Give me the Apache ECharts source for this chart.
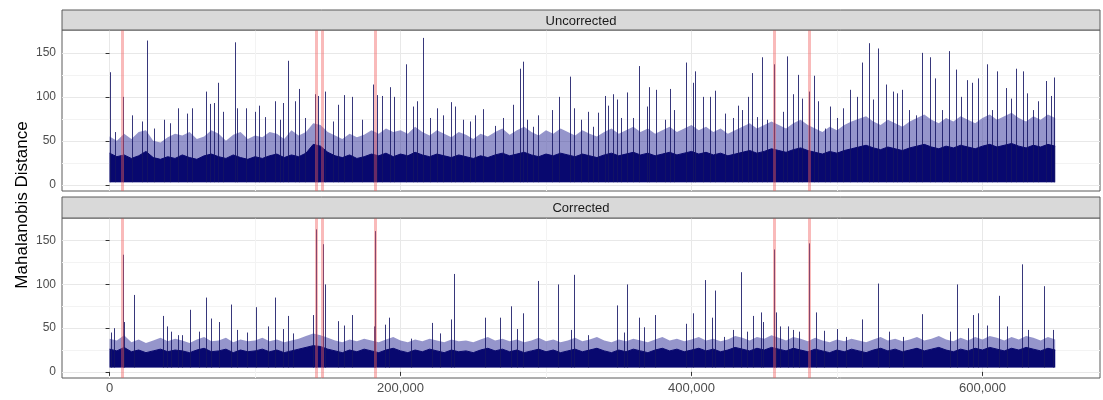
<!DOCTYPE html>
<html><head><meta charset="utf-8">
<script src="https://cdn.jsdelivr.net/npm/echarts@6/dist/echarts.min.js"></script>
<style>html,body{margin:0;padding:0;background:#fff}#c{width:1103px;height:400px}</style>
</head><body><div id="c"></div>
<script>
// ---------- data ----------
const panelTitles = ['Uncorrected', 'Corrected'];
const binStart = 0, binStep = 5000;           // x position of each band value
// dense (dark) band top, Uncorrected
const uncBand = [
 36,32,34,30,33,38,31,29,32,30,
 34,31,29,33,35,32,30,34,31,29,
 32,30,33,35,31,34,32,36,46,44,
 37,33,31,34,30,32,35,33,36,32,
 35,33,37,34,32,35,33,31,34,32,
 30,33,31,34,36,33,35,37,34,32,
 35,33,36,34,32,35,33,31,34,36,
 33,35,37,34,36,33,35,37,34,36,
 38,35,37,34,36,33,35,37,39,36,
 38,41,39,37,40,42,39,37,35,38,
 36,39,41,43,45,42,40,43,41,39,
 42,44,46,43,41,44,42,45,43,41,
 44,46,43,45,47,44,42,45,43,46,
 44];
// lighter envelope top, Uncorrected
const uncEnv = [
 55,50,58,52,60,62,50,48,54,58,
 56,60,52,55,62,58,50,57,60,52,
 56,54,60,58,52,62,56,60,70,68,
 60,56,52,58,54,57,62,58,64,60,
 62,58,66,60,56,62,58,54,60,57,
 52,58,55,60,64,57,62,66,60,56,
 62,58,64,60,56,62,58,55,60,64,
 58,62,66,60,64,58,62,66,60,64,
 68,62,66,60,64,58,62,66,70,64,
 68,72,68,64,70,74,68,64,60,66,
 62,68,72,75,78,72,68,74,70,66,
 72,76,80,74,70,76,72,78,74,70,
 76,80,74,78,82,76,72,78,74,80,
 76];
// dense (dark) band top, Corrected
const corBand = [
 26,24,28,23,25,22,24,26,23,25,
 24,22,25,27,23,24,26,22,25,23,
 24,26,23,25,22,24,26,28,30,29,
 26,24,22,25,23,26,24,22,25,27,
 24,22,25,23,26,24,22,25,23,24,
 22,25,27,24,26,23,25,22,24,26,
 23,25,22,24,26,23,25,27,24,22,
 25,23,26,24,22,25,27,24,26,23,
 25,27,24,26,23,25,28,26,24,27,
 25,28,26,24,27,25,23,26,24,22,
 25,23,26,24,22,25,27,24,26,23,
 25,27,24,26,28,25,23,26,24,27,
 25,28,26,24,27,25,28,26,24,27,
 25];
// lighter envelope top, Corrected
const corEnv = [
 38,36,42,34,37,33,36,39,35,38,
 36,33,37,40,35,36,39,34,37,35,
 36,39,35,37,34,36,38,41,44,42,
 39,36,34,37,35,38,36,34,37,40,
 36,34,37,35,38,36,34,37,35,36,
 34,37,40,36,38,35,37,34,36,39,
 35,37,34,36,39,35,37,40,36,34,
 37,35,38,36,34,37,40,36,38,35,
 37,40,36,38,35,37,41,39,36,40,
 38,42,39,36,40,38,35,39,36,34,
 37,35,38,36,34,37,40,36,38,35,
 37,40,36,38,41,37,35,39,36,40,
 37,41,39,36,40,37,41,39,36,40,
 37];
const uncFloor = 3, corFloor = 5;   // lower edge of the dense band
// individual spikes [position, distance]
const uncPeaks = [
 [340,128],[3800,60],[9050,100],[15200,79],[22100,72],[25500,164],[30600,64],[37500,74],
 [41600,70],[46900,87],[53100,81],[56500,87],[66100,106],[69100,92],[71600,93],[74600,116],
 [78200,83],[86300,162],[87400,87],[93600,87],[100000,83],[103000,90],[106900,77],[113700,95],
 [117200,74],[119500,93],[122700,141],[127500,95],[130500,109],[134400,76],[141200,103],[143500,101],
 [148100,106],[153800,72],[157300,91],[161200,102],[166900,100],[173300,74],[180900,114],[183600,102],
 [187500,101],[192800,111],[195500,100],[203800,137],[208800,89],[211500,95],[215700,167],[220300,76],
 [225300,87],[229000,79],[234500,94],[237500,89],[243200,74],[247800,72],[251200,79],[256900,86],
 [265000,67],[270200,76],[277500,91],[282100,132],[284400,140],[286700,74],[291300,66],[294700,79],
 [303900,85],[308900,100],[316500,123],[319200,87],[324000,74],[328600,83],[332100,66],[335900,82],
 [340600,101],[342800,90],[345900,103],[348600,97],[351300,76],[355500,105],[360000,76],[364200,135],
 [369200,89],[371000,111],[375600,108],[381800,74],[385200,109],[388000,85],[396200,139],[401300,116],
 [402400,129],[408100,100],[412700,100],[416200,107],[423000,81],[428300,76],[432200,90],[434500,85],
 [439100,100],[441800,127],[445200,77],[448500,145],[451700,74],[456900,137],[462700,83],[465600,146],
 [470000,103],[473400,125],[476200,98],[481000,106],[484200,124],[487200,95],[491800,64],[495200,89],
 [499800,76],[504400,87],[509000,108],[513600,100],[517400,139],[522000,161],[524600,97],[528000,155],
 [533500,114],[538700,106],[541000,104],[544900,108],[549700,85],[554300,79],[558200,150],[563900,145],
 [567400,121],[572000,85],[577000,152],[581600,131],[585000,100],[589200,119],[593000,116],[597100,121],
 [602900,137],[606700,85],[610200,129],[616000,110],[619400,98],[623000,132],[627700,129],[630800,104],
 [634900,85],[638400,95],[643700,118],[646900,101],[649300,122]];
const corPeaks = [
 [1000,45],[3300,50],[9050,134],[10200,57],[16800,88],[37000,64],[39300,52],[42100,46],
 [46900,42],[49600,42],[55600,71],[61300,46],[66100,85],[69500,61],[75300,57],[83500,77],
 [87400,48],[94500,45],[100700,74],[108700,52],[113700,85],[119500,49],[122500,64],[126300,44],
 [139600,65],[141700,163],[146500,146],[148100,100],[157300,58],[161200,53],[166500,65],[181800,52],
 [182500,161],[189300,54],[192100,62],[207200,38],[221400,56],[227200,44],[234500,60],[237000,112],
 [258100,62],[268400,62],[275700,75],[279900,49],[284400,67],[294700,104],[308500,100],[317000,48],
 [319200,111],[329100,42],[348800,76],[353600,45],[355700,100],[364200,62],[367600,51],[374900,65],
 [396200,55],[401300,67],[409300,105],[413900,62],[416200,93],[422300,40],[428700,48],[433800,114],
 [438300,46],[442000,64],[447500,68],[449400,57],[456900,140],[458100,68],[460800,52],[466100,52],
 [470000,48],[473700,46],[481000,147],[485600,68],[491100,47],[499800,49],[506200,40],[517400,60],
 [528400,101],[536000,46],[545600,40],[558200,66],[577700,46],[582500,100],[589800,50],[593300,65],
 [597100,67],[602900,53],[611600,87],[616600,52],[627200,123],[631500,48],[642500,98],[648700,48]];
const flagged = [9000, 142000, 146500, 182500, 456800, 481000];
const xTicks = [0, 200000, 400000, 600000];
const yTicks = [0, 50, 100, 150];
const xMinor = [100000, 300000, 500000];
const yMinor = [25, 75, 125];

// ---------- chart ----------
const FONT = '"Liberation Sans", Arial, Helvetica, sans-serif';
const L = 62, R = 3, W = 1103 - L - R;
const xMin = -32700, xMax = 680800, yMin = -7, yMax = 176;
const panelBox = [{top: 30, height: 161}, {top: 218, height: 160}];
const bands = [uncBand, corBand], envs = [uncEnv, corEnv], peaks = [uncPeaks, corPeaks];
const floors = [uncFloor, corFloor];
const toPts = arr => arr.map((v, i) => [binStart + i * binStep, v]);
const fmt = v => Math.round(v).toLocaleString('en-US');

const grids = [], xAxes = [], yAxes = [], series = [];
for (let p = 0; p < 2; p++) {
  const floor = floors[p];
  grids.push({left: L, right: R, top: panelBox[p].top, height: panelBox[p].height,
    show: true, borderColor: '#5a5a5a', borderWidth: 1, backgroundColor: '#fff', containLabel: false});
  xAxes.push({type: 'value', gridIndex: p, min: xMin, max: xMax, splitNumber: 3,
    axisLine: {show: false},
    axisTick: {show: p === 1, length: 4, lineStyle: {color: '#333'}, customValues: xTicks},
    axisLabel: {show: p === 1, color: '#4d4d4d', fontSize: 13, fontFamily: FONT, margin: 4,
      formatter: fmt, customValues: xTicks},
    splitLine: {show: true, lineStyle: {color: '#e8e8e8', width: 1}}});
  yAxes.push({type: 'value', gridIndex: p, min: yMin, max: yMax, splitNumber: 4,
    axisLine: {show: false},
    axisTick: {show: true, length: 4, lineStyle: {color: '#333'}, customValues: yTicks},
    axisLabel: {color: '#4d4d4d', fontSize: 12, fontFamily: FONT, margin: 6, customValues: yTicks},
    splitLine: {show: true, lineStyle: {color: '#e8e8e8', width: 1}}});
  // minor grid
  series.push({type: 'line', xAxisIndex: p, yAxisIndex: p, data: [], z: 1, silent: true,
    markLine: {silent: true, z: 1, symbol: ['none', 'none'], label: {show: false}, animation: false,
      lineStyle: {color: '#f3f3f3', width: 1, type: 'solid'},
      data: xMinor.map(v => ({xAxis: v})).concat(yMinor.map(v => ({yAxis: v})))}});
  // light envelope
  series.push({type: 'line', xAxisIndex: p, yAxisIndex: p, data: toPts(envs[p]), z: 2,
    showSymbol: false, silent: true,
    lineStyle: {width: 0, color: 'rgba(32,32,145,0.68)'},
    areaStyle: {color: 'rgba(32,32,145,0.68)', origin: floor}});
  // dense band
  series.push({type: 'line', xAxisIndex: p, yAxisIndex: p, data: toPts(bands[p]), z: 3,
    showSymbol: false, silent: true,
    lineStyle: {color: '#08086f', width: 1},
    areaStyle: {color: '#08086f', opacity: 1, origin: floor}});
  // spikes
  series.push({type: 'custom', xAxisIndex: p, yAxisIndex: p, data: peaks[p], z: 4, silent: true,
    encode: {x: 0, y: 1}, clip: true,
    renderItem: (params, api) => {
      const a = api.coord([api.value(0), floor]);
      const b = api.coord([api.value(0), api.value(1)]);
      const x = Math.round(a[0]) + 0.5;
      return {type: 'line', shape: {x1: x, y1: a[1], x2: x, y2: b[1]},
        style: {stroke: 'rgba(20,20,100,0.85)', lineWidth: 1}};
    }});
  // flagged positions
  series.push({type: 'line', xAxisIndex: p, yAxisIndex: p, data: [], z: 6, silent: true,
    markLine: {silent: true, z: 6, symbol: ['none', 'none'], label: {show: false}, animation: false,
      lineStyle: {color: 'rgba(240,90,90,0.42)', width: 3, type: 'solid'},
      data: flagged.map(v => ({xAxis: v}))}});
}

const graphic = [];
const strips = [{y: 10, h: 20}, {y: 197, h: 21}];
strips.forEach((s, p) => {
  graphic.push({type: 'rect', shape: {x: L, y: s.y, width: W, height: s.h}, z: 10,
    style: {fill: '#d9d9d9', stroke: '#5a5a5a', lineWidth: 1}});
  graphic.push({type: 'text', x: L + W / 2, y: s.y + s.h / 2 + 1, z: 11,
    style: {text: panelTitles[p], font: '13px ' + FONT, fill: '#1a1a1a', align: 'center', verticalAlign: 'middle'}});
});
graphic.push({type: 'text', x: 22, y: 205, rotation: Math.PI / 2, z: 11,
  style: {text: 'Mahalanobis Distance', font: '17px ' + FONT, fill: '#000', align: 'center', verticalAlign: 'middle'}});

const chart = echarts.init(document.getElementById('c'), null, {renderer: 'canvas'});
chart.setOption({animation: false, backgroundColor: '#fff', grid: grids, xAxis: xAxes, yAxis: yAxes,
  series: series, graphic: graphic});
</script></body></html>
